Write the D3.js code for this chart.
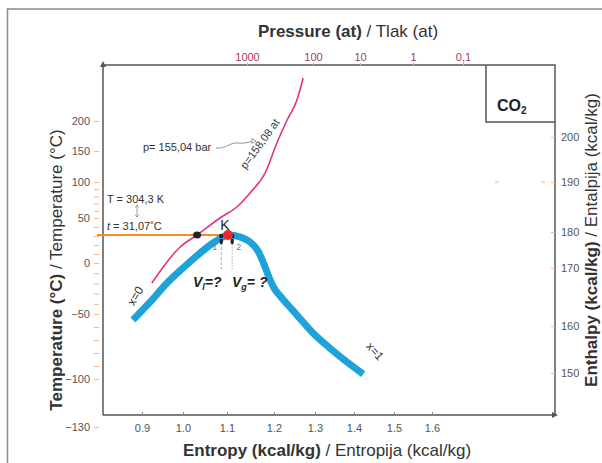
<!DOCTYPE html>
<html><head><meta charset="utf-8">
<script src="https://cdn.jsdelivr.net/npm/d3@7"></script>
<style>
html,body{margin:0;padding:0;background:#fff;}
svg{display:block;font-family:"Liberation Sans",Arial,sans-serif;}
</style></head>
<body><svg id="c" width="602" height="463"></svg>
<script>
// ---------- data ----------
const entropyTicks = [0.9, 1.0, 1.1, 1.2, 1.3, 1.4, 1.5, 1.6];
const tempTicks = [-130, -100, -50, 0, 50, 100, 150, 200];
const tempMinorTicks = [-90, -80, -70, -60, -40, -30, -20, -10, 10, 20, 30, 40, 60, 70, 80, 90];
const enthalpyTicks = [150, 160, 170, 180, 190, 200];
const pressureValues = [1000, 100, 10, 1, 0.1];
const pressureLabels = ["1000", "100", "10", "1", "0,1"];

// saturation dome (x=0 branch -> critical point -> x=1 branch)
const satEntropy = [0.878, 0.920, 0.961, 1.000, 1.039, 1.068, 1.091, 1.104, 1.128, 1.149, 1.166, 1.181, 1.191, 1.200, 1.215, 1.234, 1.256, 1.295, 1.338, 1.382, 1.423];
const satTemp    = [-54.6, -38.2, -19.6, -4.9, 11.1, 22.2, 28.9, 31.1, 28.9, 23.3, 13.3, -3.9, -15.7, -24.5, -32.4, -41.2, -50.8, -64.6, -76.2, -86.9, -96.2];

// critical isobar p = 158,08 at
const isobarEntropy = [0.924, 0.993, 1.032, 1.084, 1.121, 1.149, 1.181, 1.207, 1.232, 1.256, 1.271];
const isobarTemp    = [-19.6, 17.8, 31.1, 50, 65.3, 84.7, 114.5, 163.3, 201.7, 235, 271.7];

const criticalEntropy = 1.102, criticalTemp = 31.07;
const isobarCrossEntropy = 1.032;
const liquidEntropy = 1.087, gasEntropy = 1.111;

// ---------- layout ----------
const W = 602, H = 463;
const plot = {left: 103, right: 555, top: 65, bottom: 415};
const FONT = '"Liberation Sans",Arial,sans-serif';
const grey = "#555", tickOrange = "#f6b488", blue = "#1da3da", pink = "#e3337d", orange = "#ef8b2f", maroon = "#a23a62";

const svg = d3.select("#c");
svg.append("rect").attr("width", W).attr("height", H).attr("fill", "#fff");

// scales (non-uniform printed axes -> polylinear scales)
const x = d3.scaleLinear().domain(entropyTicks).range([142, 183, 227, 274, 315, 354, 394, 432]);
const y = d3.scaleLinear().domain(tempTicks).range([427, 379, 314, 263, 218, 182, 151, 121]);
const yH = d3.scaleLinear().domain(enthalpyTicks).range([373, 326, 268, 232, 182, 137]);
const xP = d3.scaleLinear().domain(pressureValues.map(Math.log10)).range([247, 313, 360, 413, 463]);

// outer frame
svg.append("path").attr("d", `M7.5,${H} V9 H${W}`).attr("fill", "none").attr("stroke", "#8a8a8a").attr("stroke-width", 1.5);

// plot frame
const frame = svg.append("g").attr("stroke", grey).attr("stroke-width", 1.5).attr("fill", "none");
frame.append("path").attr("d", `M${plot.left},${plot.bottom} V${plot.top} H${plot.right} V${plot.bottom} H${plot.left}`);
frame.append("path").attr("d", `M486,${plot.top} V122 H${plot.right}`);
svg.append("path").attr("d", `M${plot.left},${plot.top-4} l-3,6 h6 z`).attr("fill", grey);
svg.append("path").attr("d", `M${plot.right+3},${plot.bottom} l-6,-3 v6 z`).attr("fill", grey);

// CO2 label
const co2 = svg.append("text").attr("x", 497).attr("y", 111).attr("font-size", 16).attr("font-weight", "bold").attr("fill", "#222");
co2.append("tspan").text("CO");
co2.append("tspan").attr("font-size", 10).attr("dy", 3).text("2");

// bottom axis
const gx = svg.append("g").attr("transform", `translate(0,${plot.bottom})`)
  .call(d3.axisBottom(x).tickValues(entropyTicks).tickSize(-3).tickPadding(9).tickFormat(d3.format(".1f")));
gx.select(".domain").remove();
gx.selectAll("line").attr("stroke", "#888");
gx.selectAll("text").attr("font-size", 11).attr("fill", grey).attr("font-family", FONT);

// left axis
const gy = svg.append("g").attr("transform", `translate(99,0)`)
  .call(d3.axisLeft(y).tickValues(tempTicks).tickSize(5).tickPadding(4));
gy.select(".domain").remove();
gy.selectAll("line").attr("stroke", tickOrange);
gy.selectAll("text").attr("font-size", 11).attr("fill", grey).attr("font-family", FONT);
const gym = svg.append("g").attr("transform", `translate(99,0)`)
  .call(d3.axisLeft(y).tickValues(tempMinorTicks).tickSize(5).tickFormat(""));
gym.select(".domain").remove();
gym.selectAll("line").attr("stroke", tickOrange);

// right axis
const gr = svg.append("g").attr("transform", `translate(551,0)`)
  .call(d3.axisRight(yH).tickValues(enthalpyTicks).tickSize(4).tickPadding(6));
gr.select(".domain").remove();
gr.selectAll("line").attr("stroke", tickOrange);
gr.selectAll("text").attr("font-size", 11).attr("fill", grey).attr("font-family", FONT);
svg.append("line").attr("x1", 541).attr("x2", 545).attr("y1", yH(190)).attr("y2", yH(190)).attr("stroke", tickOrange);
svg.append("line").attr("x1", 495).attr("x2", 499).attr("y1", yH(190)).attr("y2", yH(190)).attr("stroke", tickOrange);

// top (pressure) axis
const gt = svg.append("g").attr("transform", `translate(0,${plot.top+1})`)
  .call(d3.axisTop(xP).tickValues(pressureValues.map(Math.log10)).tickSize(3).tickPadding(2)
    .tickFormat((d, i) => pressureLabels[i]));
gt.select(".domain").remove();
gt.selectAll("line").attr("stroke", "#e59ab8");
gt.selectAll("text").attr("font-size", 11).attr("fill", maroon).attr("font-family", FONT);

// titles
function title(sel, bold, rest) {
  sel.attr("font-size", 17).attr("fill", "#333").attr("text-anchor", "middle");
  sel.append("tspan").attr("font-weight", "bold").text(bold);
  sel.append("tspan").text(rest);
  return sel;
}
title(svg.append("text").attr("x", 348).attr("y", 37), "Pressure (at)", " / Tlak (at)");
title(svg.append("text").attr("x", 327).attr("y", 456), "Entropy (kcal/kg)", " / Entropija (kcal/kg)");
title(svg.append("text").attr("transform", "translate(62,270) rotate(-90)"), "Temperature (°C)", " / Temperature (°C)");
title(svg.append("text").attr("transform", "translate(597,240) rotate(-90)"), "Enthalpy (kcal/kg)", " / Entalpija (kcal/kg)");

// lines
const line = d3.line().x(d => x(d[0])).y(d => y(d[1])).curve(d3.curveMonotoneX);
const satData = d3.zip(satEntropy, satTemp);
const isoData = d3.zip(isobarEntropy, isobarTemp);

svg.append("path").attr("d", line(isoData)).attr("fill", "none").attr("stroke", pink).attr("stroke-width", 1.6);
svg.append("path").attr("d", line(satData)).attr("fill", "none").attr("stroke", blue).attr("stroke-width", 7);

// critical temperature line
svg.append("line").attr("x1", 97).attr("x2", x(criticalEntropy)).attr("y1", y(criticalTemp)).attr("y2", y(criticalTemp))
  .attr("stroke", orange).attr("stroke-width", 2);

// dashed guides for V_l, V_g
[liquidEntropy, gasEntropy].forEach((s, i) => {
  svg.append("line").attr("x1", x(s)).attr("x2", x(s)).attr("y1", y(criticalTemp) + 12).attr("y2", y(-6))
    .attr("stroke", "#aaa").attr("stroke-width", 1).attr("stroke-dasharray", i ? "1.5,1.5" : "3,2");
  svg.append("circle").attr("cx", x(s)).attr("cy", y(criticalTemp) + 1).attr("r", 2.3).attr("fill", "#222");
  svg.append("path").attr("d", `M${x(s)-1.6},${y(criticalTemp)+4} h3.2 v4 l-1.6,2 l-1.6,-2 z`).attr("fill", "#222");
  svg.append("text").attr("x", x(s) + (i ? 4 : -4)).attr("y", y(criticalTemp) + 15).attr("font-size", 9)
    .attr("fill", "#777").attr("text-anchor", i ? "start" : "end").text(i ? "2" : "1");
});

// dots
svg.append("ellipse").attr("cx", x(isobarCrossEntropy)).attr("cy", y(criticalTemp)).attr("rx", 4).attr("ry", 3.5).attr("fill", "#222");
svg.append("circle").attr("cx", x(criticalEntropy)).attr("cy", y(criticalTemp)).attr("r", 5).attr("fill", "#e52b2b");
svg.append("text").attr("x", x(criticalEntropy) - 3).attr("y", y(criticalTemp) - 5).attr("font-size", 14)
  .attr("text-anchor", "middle").attr("fill", "#222").text("K");

// annotations
const ann = svg.append("g").attr("font-size", 11).attr("fill", "#333");
ann.append("text").attr("x", 143).attr("y", 151).text("p= 155,04 bar");
svg.append("path").attr("d", "M216,148 C226,149 230,142 238,143 C244,144 248,142 254,141")
  .attr("fill", "none").attr("stroke", "#888").attr("stroke-width", 0.9);
svg.append("path").attr("d", "M256,141 l-4,-2.5 v5 z").attr("fill", "#fff").attr("stroke", "#888").attr("stroke-width", 0.8);
ann.append("text").attr("transform", "translate(263,146) rotate(-54)").attr("text-anchor", "middle").text("p=158,08 at");
ann.append("text").attr("x", 107).attr("y", 203).text("T = 304,3 K");
svg.append("path").attr("d", "M137,205 V217 M135,207.5 l2,-2.5 l2,2.5 M135,214.5 l2,2.5 l2,-2.5")
  .attr("fill", "none").attr("stroke", "#888").attr("stroke-width", 0.8);
const tt = ann.append("text").attr("x", 107).attr("y", 230);
tt.append("tspan").attr("font-style", "italic").text("t");
tt.append("tspan").text(" = 31,07˚C");

const vl = svg.append("text").attr("x", 193).attr("y", 287).attr("font-size", 14).attr("font-weight", "bold").attr("font-style", "italic").attr("fill", "#222");
vl.append("tspan").text("V");
vl.append("tspan").attr("font-size", 9).attr("dy", 3).text("l");
vl.append("tspan").attr("dy", -3).text("=?");
const vg = svg.append("text").attr("x", 232).attr("y", 287).attr("font-size", 14).attr("font-weight", "bold").attr("font-style", "italic").attr("fill", "#222");
vg.append("tspan").text("V");
vg.append("tspan").attr("font-size", 9).attr("dy", 3).text("g");
vg.append("tspan").attr("dy", -3).text("= ?");

svg.append("text").attr("transform", "translate(139,298) rotate(-60)").attr("text-anchor", "middle")
  .attr("font-size", 12).attr("fill", "#333").text("x=0");
svg.append("text").attr("transform", "translate(372,354) rotate(48)").attr("text-anchor", "middle")
  .attr("font-size", 12).attr("fill", "#333").text("x=1");
</script></body></html>
